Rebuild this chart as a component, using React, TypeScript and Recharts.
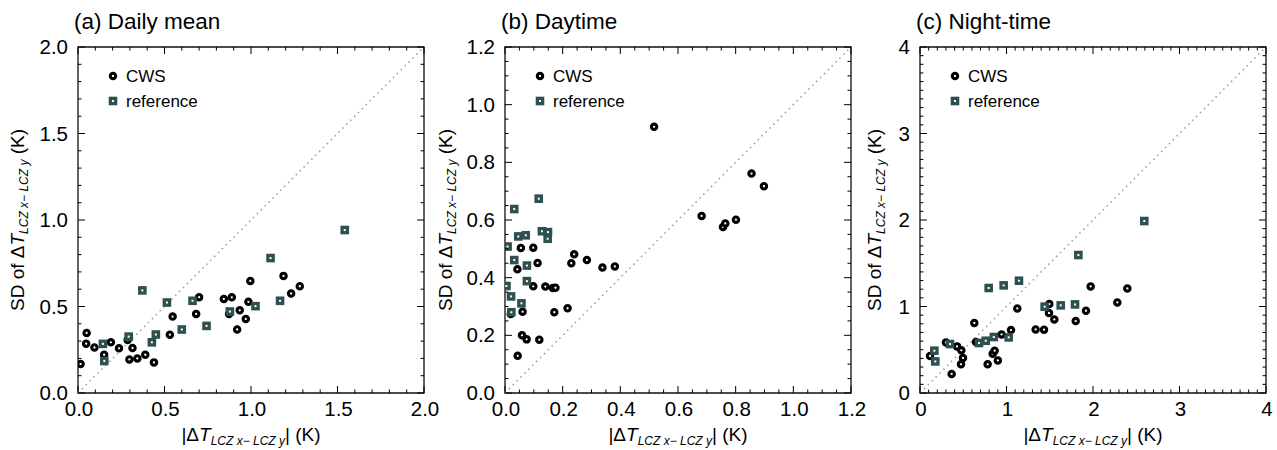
import React from 'react';
import { ScatterChart, Scatter, XAxis, YAxis, ReferenceLine, ReferenceArea } from 'recharts';

// ---------- data ----------
const dailyCwsX = [0.015, 0.047, 0.05, 0.095, 0.151, 0.19, 0.237, 0.287, 0.297, 0.315, 0.343, 0.389, 0.439, 0.531, 0.547, 0.683, 0.7, 0.843, 0.889, 0.873, 0.935, 0.92, 0.97, 0.985, 0.996, 1.188, 1.232, 1.282];
const dailyCwsY = [0.168, 0.285, 0.347, 0.263, 0.221, 0.293, 0.258, 0.306, 0.194, 0.26, 0.2, 0.221, 0.177, 0.337, 0.442, 0.457, 0.554, 0.544, 0.553, 0.456, 0.478, 0.367, 0.428, 0.527, 0.648, 0.677, 0.575, 0.617];
const dailyRefX = [0.144, 0.152, 0.293, 0.372, 0.427, 0.45, 0.514, 0.6, 0.662, 0.743, 0.878, 1.026, 1.113, 1.168, 1.542];
const dailyRefY = [0.284, 0.185, 0.326, 0.593, 0.293, 0.338, 0.523, 0.367, 0.533, 0.388, 0.471, 0.502, 0.78, 0.533, 0.942];

const dayCwsX = [0.517, 0.682, 0.756, 0.764, 0.801, 0.855, 0.898, 0.055, 0.098, 0.043, 0.113, 0.098, 0.14, 0.166, 0.175, 0.24, 0.23, 0.284, 0.338, 0.381, 0.217, 0.171, 0.061, 0.02, 0.059, 0.075, 0.119, 0.044];
const dayCwsY = [0.923, 0.614, 0.576, 0.588, 0.601, 0.761, 0.717, 0.503, 0.504, 0.429, 0.451, 0.37, 0.369, 0.364, 0.365, 0.481, 0.45, 0.461, 0.435, 0.439, 0.294, 0.28, 0.282, 0.274, 0.2, 0.186, 0.185, 0.129];
const dayRefX = [0.117, 0.032, 0.046, 0.072, 0.009, 0.128, 0.149, 0.148, 0.032, 0.076, 0.076, 0.005, 0.021, 0.057, 0.022];
const dayRefY = [0.674, 0.638, 0.543, 0.547, 0.508, 0.561, 0.558, 0.535, 0.461, 0.442, 0.388, 0.371, 0.335, 0.311, 0.28];

const nightCwsX = [0.116, 0.3, 0.428, 0.478, 0.497, 0.474, 0.366, 0.628, 0.647, 0.782, 0.84, 0.863, 0.9, 0.943, 1.052, 1.125, 1.337, 1.434, 1.495, 1.491, 1.553, 1.8, 1.919, 1.973, 2.281, 2.397];
const nightCwsY = [0.428, 0.585, 0.539, 0.493, 0.405, 0.331, 0.22, 0.809, 0.589, 0.331, 0.454, 0.489, 0.377, 0.677, 0.728, 0.978, 0.735, 0.732, 1.029, 0.925, 0.851, 0.832, 0.951, 1.232, 1.047, 1.209];
const nightRefX = [0.166, 0.177, 0.347, 0.682, 0.76, 0.853, 1.025, 0.794, 0.967, 1.144, 1.441, 1.627, 1.792, 1.831, 2.593];
const nightRefY = [0.489, 0.365, 0.566, 0.578, 0.604, 0.647, 0.643, 1.214, 1.244, 1.298, 0.998, 1.013, 1.024, 1.595, 1.988];

const dailyTicks = [0, 0.5, 1, 1.5, 2];
const dailyTickLabels = ['0.0', '0.5', '1.0', '1.5', '2.0'];
const dayTicks = [0, 0.2, 0.4, 0.6, 0.8, 1.0, 1.2];
const dayTickLabels = ['0.0', '0.2', '0.4', '0.6', '0.8', '1.0', '1.2'];
const nightTicks = [0, 1, 2, 3, 4];
const nightTickLabels = ['0', '1', '2', '3', '4'];

const titles = ['(a) Daily mean', '(b) Daytime', '(c) Night-time'];
const seriesNames = ['CWS', 'reference'];

// ---------- style ----------
const FONT = "'Liberation Sans', Arial, Helvetica, sans-serif";
const PLOT = 346;
const CHART_W = 446;
const CHART_H = 450;
const TOP = 47;
const LEFT = 78;
const REF_COLOR = '#2E5050';

const zip = (xs: number[], ys: number[]) => xs.map((x, i) => ({ x, y: ys[i] }));

const buildMinor = (max: number, step: number) => {
  const out: number[] = [];
  const n = Math.round(max / step);
  for (let i = 0; i <= n; i++) out.push(Math.round(i * step * 1e6) / 1e6);
  return out;
};

const CwsShape = (p: any) => (
  <circle cx={p.cx} cy={p.cy} r={2.7} fill="#fff" stroke="#000" strokeWidth={3.1} />
);
const RefShape = (p: any) => (
  <g>
    <rect x={p.cx - 4.3} y={p.cy - 4.3} width={8.6} height={8.6} fill={REF_COLOR} />
    <rect x={p.cx - 1} y={p.cy - 1} width={2} height={2} fill="#fff" />
  </g>
);

function findLabel(v: number, majors: number[], labels: string[]) {
  const i = majors.findIndex((m) => Math.abs(m - v) < 1e-6);
  return i >= 0 ? labels[i] : null;
}

const makeXTick = (majors: number[], labels: string[]) => (props: any) => {
  const { x, y, payload } = props;
  const lab = findLabel(payload.value, majors, labels);
  const len = lab !== null ? 7 : 3.5;
  return (
    <g>
      <line x1={x} x2={x} y1={y} y2={y - len} stroke="#000" strokeWidth={1} />
      <line x1={x} x2={x} y1={y - PLOT} y2={y - PLOT + len} stroke="#000" strokeWidth={1} />
      {lab !== null && (
        <text x={x + 1} y={y + 23} textAnchor="middle" fontSize={20.5} fontFamily={FONT} fill="#000">
          {lab}
        </text>
      )}
    </g>
  );
};

const makeYTick = (majors: number[], labels: string[]) => (props: any) => {
  const { x, y, payload } = props;
  const lab = findLabel(payload.value, majors, labels);
  const len = lab !== null ? 7 : 3.5;
  return (
    <g>
      <line x1={x} x2={x + len} y1={y} y2={y} stroke="#000" strokeWidth={1} />
      <line x1={x + PLOT} x2={x + PLOT - len} y1={y} y2={y} stroke="#000" strokeWidth={1} />
      {lab !== null && (
        <text x={x - 10} y={y + 7} textAnchor="end" fontSize={20.5} fontFamily={FONT} fill="#000">
          {lab}
        </text>
      )}
    </g>
  );
};

interface PanelProps {
  left: number;
  title: string;
  cws: { x: number; y: number }[];
  refs: { x: number; y: number }[];
  max: number;
  majors: number[];
  labels: string[];
  minorStep: number;
  yLabelOffset: number;
}

function Sub() {
  return (
    <>
      <tspan fontStyle="italic">T</tspan>
      <tspan fontStyle="italic" fontSize={12} dy={4}>LCZ x− LCZ y</tspan>
    </>
  );
}

function Panel({ left, title, cws, refs, max, majors, labels, minorStep, yLabelOffset }: PanelProps) {
  const minor = buildMinor(max, minorStep);
  const cxLab = LEFT + PLOT / 2;
  const cyLab = TOP + PLOT / 2;
  return (
    <div style={{ position: 'absolute', left, top: 0, width: CHART_W, height: CHART_H }}>
      <ScatterChart
        width={CHART_W}
        height={CHART_H}
        margin={{ top: TOP, left: LEFT - 60, right: CHART_W - LEFT - PLOT, bottom: CHART_H - TOP - PLOT - 30 }}
      >
        <XAxis
          type="number"
          dataKey="x"
          domain={[0, max]}
          ticks={minor}
          interval={0}
          height={30}
          tickSize={0}
          tickMargin={0}
          tickLine={false}
          axisLine={false}
          allowDataOverflow
          tick={makeXTick(majors, labels)}
        />
        <YAxis
          type="number"
          dataKey="y"
          domain={[0, max]}
          ticks={minor}
          interval={0}
          width={60}
          tickSize={0}
          tickMargin={0}
          tickLine={false}
          axisLine={false}
          allowDataOverflow
          tick={makeYTick(majors, labels)}
        />
        <ReferenceLine
          segment={[{ x: 0, y: 0 }, { x: max, y: max }]}
          stroke="#9a9a9a"
          strokeWidth={1.5}
          strokeDasharray="1.5 4"
        />
        <Scatter name={seriesNames[0]} data={cws} shape={CwsShape} isAnimationActive={false} />
        <Scatter name={seriesNames[1]} data={refs} shape={RefShape} isAnimationActive={false} />
        <ReferenceArea x1={0} x2={max} y1={0} y2={max} fill="none" stroke="#111" strokeWidth={1.3} />
      </ScatterChart>
      <svg
        width={CHART_W}
        height={CHART_H}
        style={{ position: 'absolute', left: 0, top: 0, pointerEvents: 'none' }}
        fontFamily={FONT}
      >
        <text x={LEFT - 4} y={29} fontSize={22.5} fill="#000">{title}</text>
        {/* legend */}
        <circle cx={LEFT + 35} cy={TOP + 29} r={2.7} fill="#fff" stroke="#000" strokeWidth={3.1} />
        <text x={LEFT + 48} y={TOP + 35} fontSize={17} fill="#000">{seriesNames[0]}</text>
        <rect x={LEFT + 35 - 4.3} y={TOP + 54 - 4.3} width={8.6} height={8.6} fill={REF_COLOR} />
        <rect x={LEFT + 35 - 1} y={TOP + 54 - 1} width={2} height={2} fill="#fff" />
        <text x={LEFT + 48} y={TOP + 60} fontSize={17} fill="#000">{seriesNames[1]}</text>
        {/* x label */}
        <text x={cxLab} y={441} textAnchor="middle" fontSize={19} fill="#000">
          |Δ<Sub />
          <tspan dy={-4}>| (K)</tspan>
        </text>
        {/* y label */}
        <text
          transform={`translate(${LEFT + yLabelOffset}, ${cyLab}) rotate(-90)`}
          x={0}
          y={0}
          textAnchor="middle"
          fontSize={19}
          fill="#000"
        >
          SD of Δ<Sub />
          <tspan dy={-4}> (K)</tspan>
        </text>
      </svg>
    </div>
  );
}

export default function App() {
  return (
    <div style={{ position: 'absolute', left: 0, top: 0, width: 1277, height: 450, background: '#fff' }}>
      <Panel
        left={0}
        title={titles[0]}
        cws={zip(dailyCwsX, dailyCwsY)}
        refs={zip(dailyRefX, dailyRefY)}
        max={2}
        majors={dailyTicks}
        labels={dailyTickLabels}
        minorStep={0.1}
        yLabelOffset={-54}
      />
      <Panel
        left={427}
        title={titles[1]}
        cws={zip(dayCwsX, dayCwsY)}
        refs={zip(dayRefX, dayRefY)}
        max={1.2}
        majors={dayTicks}
        labels={dayTickLabels}
        minorStep={0.05}
        yLabelOffset={-53}
      />
      <Panel
        left={842}
        title={titles[2]}
        cws={zip(nightCwsX, nightCwsY)}
        refs={zip(nightRefX, nightRefY)}
        max={4}
        majors={nightTicks}
        labels={nightTickLabels}
        minorStep={0.1}
        yLabelOffset={-39}
      />
    </div>
  );
}
